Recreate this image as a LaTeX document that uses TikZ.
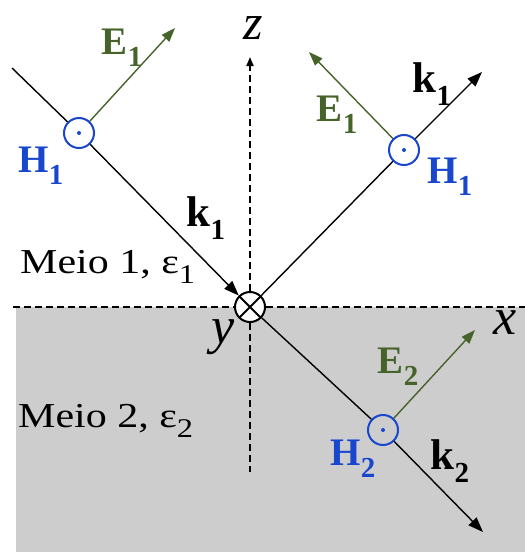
\documentclass[tikz,border=0pt]{standalone}
\usepackage{fontspec}
\setmainfont{Liberation Serif}
\usetikzlibrary{arrows.meta}
\definecolor{egreen}{RGB}{70,100,42}
\definecolor{hblue}{RGB}{24,70,205}
\definecolor{medgray}{RGB}{206,205,206}
\newcommand\bvec[3]{{\fontsize{#3}{#3}\selectfont\bfseries #1\raisebox{-0.3em}{\fontsize{29}{29}\selectfont\bfseries #2}}}
\newcommand\meio[1]{\scalebox{1.2}[1]{\fontsize{35}{35}\selectfont Meio #1, ε\raisebox{-0.3em}{\fontsize{27}{27}\selectfont #1}}}
\begin{document}
\begin{tikzpicture}[x=1pt,y=-1pt,
  ray/.style={black, line width=1.4pt},
  karrow/.style={ray, -{Triangle[length=15pt,width=11pt]}},
  evec/.style={egreen, line width=1.4pt, -{Triangle[length=14pt,width=10pt]}},
  hcirc/.style={circle, draw=hblue, line width=2pt, minimum size=30pt, inner sep=0pt,
    path picture={\fill[hblue] (path picture bounding box.center) circle (2pt);}},
  axisline/.style={line width=1.8pt, dash pattern=on 7pt off 4pt},
  lbl/.style={inner sep=0pt, anchor=center},
  ]
\useasboundingbox (0,0) rectangle (525,552);
\fill[medgray] (16,307) rectangle (525,552);

% nodes
\node[circle, draw=black, line width=2pt, fill=white, minimum size=30pt, inner sep=0pt,
  path picture={\draw[line width=1.8pt] (path picture bounding box.north west) -- (path picture bounding box.south east)
    (path picture bounding box.north east) -- (path picture bounding box.south west);}] (O) at (250,307) {};
\node[hcirc, fill=white] (H1i) at (79,133) {};
\node[hcirc, fill=white] (H1r) at (404,150) {};
\node[hcirc, fill=medgray] (H2) at (383,430) {};

\coordinate (incStart) at (12,68);
\coordinate (refEnd) at (482,72);
\coordinate (traEnd) at (483,532);
\coordinate (E1iEnd) at (175,28);
\coordinate (E1rEnd) at (309,52);
\coordinate (E2End) at (475,330);
\coordinate (zTop) at (250,57);
\coordinate (zBot) at (250,472);
\coordinate (xL) at (13,307);
\coordinate (xR) at (525,307);

% axes
\draw[axisline] (xL) -- (O);
\draw[axisline] (O) -- (xR);
\draw[axisline, -{Triangle[length=9pt,width=7pt]}] (O) -- (zTop);
\draw[axisline] (O) -- (zBot);

% rays
\draw[ray] (incStart) -- (H1i);
\draw[karrow] (H1i) -- (O);
\draw[ray] (O) -- (H1r);
\draw[karrow] (H1r) -- (refEnd);
\draw[ray] (O) -- (H2);
\draw[karrow] (H2) -- (traEnd);

% E vectors
\draw[evec] (H1i) -- (E1iEnd);
\draw[evec] (H1r) -- (E1rEnd);
\draw[evec] (H2) -- (E2End);

% labels
\node[lbl] (zl) at (253,28) {\fontsize{50}{50}\selectfont\itshape z};
\node[lbl] (xl) at (505,323) {\fontsize{52}{52}\selectfont\itshape x};
\node[lbl] (yl) at (223,337) {\fontsize{52}{52}\selectfont\itshape y};
\node[lbl, text=egreen] (E1il) at (122,48) {\bvec{E}{1}{39}};
\node[lbl, text=hblue] (H1il) at (41,166) {\bvec{H}{1}{39}};
\node[lbl] (k1il) at (206,218) {\bvec{k}{1}{43}};
\node[lbl, text=egreen] (E1rl) at (337,115) {\bvec{E}{1}{39}};
\node[lbl] (k1rl) at (432,84) {\bvec{k}{1}{43}};
\node[lbl, text=hblue] (H1rl) at (450,177) {\bvec{H}{1}{39}};
\node[lbl, text=egreen] (E2l) at (398,367) {\bvec{E}{2}{39}};
\node[lbl, text=hblue] (H2l) at (353,459) {\bvec{H}{2}{39}};
\node[lbl] (k2l) at (450,461) {\bvec{k}{2}{43}};
\node[lbl, anchor=west] (m1) at (20,267) {\meio{1}};
\node[lbl, anchor=west] (m2) at (18,421) {\meio{2}};
\end{tikzpicture}
\end{document}
